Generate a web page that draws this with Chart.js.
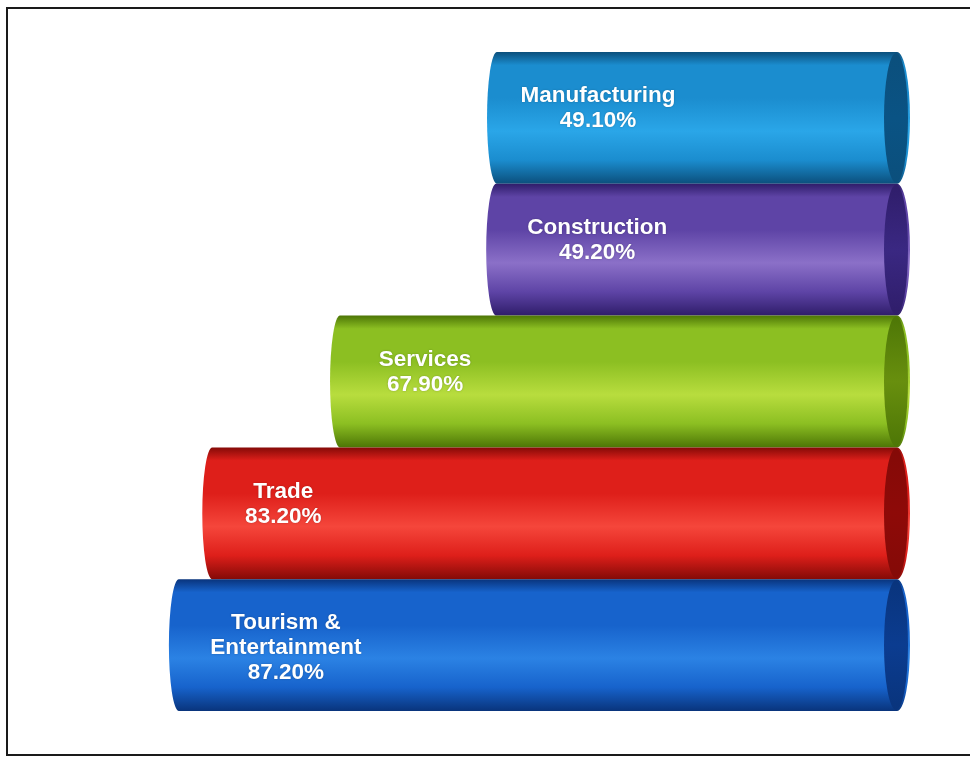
<!DOCTYPE html>
<html>
<head>
<meta charset="utf-8">
<title>Sector share</title>
<script src="https://cdn.jsdelivr.net/npm/chart.js@4/dist/chart.umd.min.js"></script>
<style>
  html, body { margin: 0; padding: 0; background: #fff; }
  #wrap { position: relative; width: 970px; height: 758px; }
</style>
</head>
<body>
<div id="wrap"><canvas id="chart" width="970" height="758"></canvas></div>
<script>
// Sectors, top to bottom
const categories = ['Manufacturing', 'Construction', 'Services', 'Trade', ['Tourism &', 'Entertainment']];
// Share per sector, in percent
const shares = [49.1, 49.2, 67.9, 83.2, 87.2];

// Cylinder shading per sector: [dark edge, body, highlight, end face]
const palette = [
  ['#0b4f7c', '#1b8dcf', '#2aa6e8', '#0a5384'],
  ['#2f1d6a', '#5e44a6', '#8b70c8', '#3a2882'],
  ['#4d7606', '#8cbf22', '#b8dd3e', '#688f0e'],
  ['#840a07', '#de1f1a', '#f5463b', '#8e0a08'],
  ['#09347c', '#1763cc', '#2b82e4', '#0b3c90']
];

// Draws each bar element as a horizontal cylinder: rounded far end, flat shaded end face at the base
const cylinderPlugin = {
  id: 'cylinders',
  afterDatasetsDraw(chart, args, opts) {
    const ctx = chart.ctx;
    const meta = chart.getDatasetMeta(0);
    const rxL = 10, rxF = 13;
    meta.data.forEach((bar, i) => {
      const [dark, body, light, face] = palette[i];
      const left = Math.min(bar.x, bar.base);
      const right = Math.max(bar.x, bar.base);
      const top = bar.y - bar.height / 2;
      const bot = bar.y + bar.height / 2;
      const cy = bar.y;
      const ry = bar.height / 2;

      const g = ctx.createLinearGradient(0, top, 0, bot);
      g.addColorStop(0, dark);
      g.addColorStop(0.1, body);
      g.addColorStop(0.35, body);
      g.addColorStop(0.6, light);
      g.addColorStop(0.82, body);
      g.addColorStop(1, dark);

      ctx.save();
      // body with rounded far end and the outer half of the end face
      ctx.beginPath();
      ctx.moveTo(right, top);
      ctx.lineTo(left + rxL, top);
      ctx.ellipse(left + rxL, cy, rxL, ry, 0, -Math.PI / 2, Math.PI / 2, true);
      ctx.lineTo(right, bot);
      ctx.ellipse(right, cy, rxF, ry, 0, Math.PI / 2, -Math.PI / 2, true);
      ctx.closePath();
      ctx.fillStyle = g;
      ctx.fill();

      // end face
      const fg = ctx.createLinearGradient(0, top, 0, bot);
      fg.addColorStop(0, dark);
      fg.addColorStop(0.5, face);
      fg.addColorStop(1, dark);
      ctx.beginPath();
      ctx.ellipse(right - 1, cy, rxF - 1, ry - 1, 0, 0, Math.PI * 2);
      ctx.fillStyle = fg;
      ctx.fill();
      ctx.restore();

      // label: sector name and share
      const name = chart.data.labels[i];
      const lines = (Array.isArray(name) ? name : [name]).concat([shares[i].toFixed(2) + '%']);
      const cx = left + opts.labelInset[i];
      ctx.save();
      ctx.font = 'bold 22.5px "Liberation Sans", Arial, sans-serif';
      ctx.fillStyle = '#ffffff';
      ctx.textAlign = 'center';
      ctx.textBaseline = 'middle';
      ctx.shadowColor = 'rgba(0,0,0,0.25)';
      ctx.shadowBlur = 2;
      lines.forEach((t, k) => ctx.fillText(t, cx, top + 44 + k * 25));
      ctx.restore();
    });
  }
};

// Thin outer frame
const framePlugin = {
  id: 'frame',
  beforeDraw(chart) {
    const ctx = chart.ctx;
    ctx.save();
    ctx.fillStyle = '#ffffff';
    ctx.fillRect(0, 0, chart.width, chart.height);
    ctx.strokeStyle = '#1a1a1a';
    ctx.lineWidth = 2;
    ctx.strokeRect(7, 8, 975, 747);
    ctx.restore();
  }
};

new Chart(document.getElementById('chart'), {
  type: 'bar',
  data: {
    labels: categories,
    datasets: [{
      data: shares,
      backgroundColor: 'rgba(0,0,0,0)',
      borderWidth: 0,
      barPercentage: 1,
      categoryPercentage: 1
    }]
  },
  options: {
    indexAxis: 'y',
    responsive: false,
    animation: false,
    layout: { padding: { left: 62, right: 73, top: 52, bottom: 47 } },
    scales: {
      x: { display: false, reverse: true, min: 0, max: 100 },
      y: { display: false }
    },
    plugins: {
      legend: { display: false },
      tooltip: { enabled: false },
      cylinders: { labelInset: [111, 111, 95, 81, 117] }
    }
  },
  plugins: [framePlugin, cylinderPlugin]
});
</script>
</body>
</html>
